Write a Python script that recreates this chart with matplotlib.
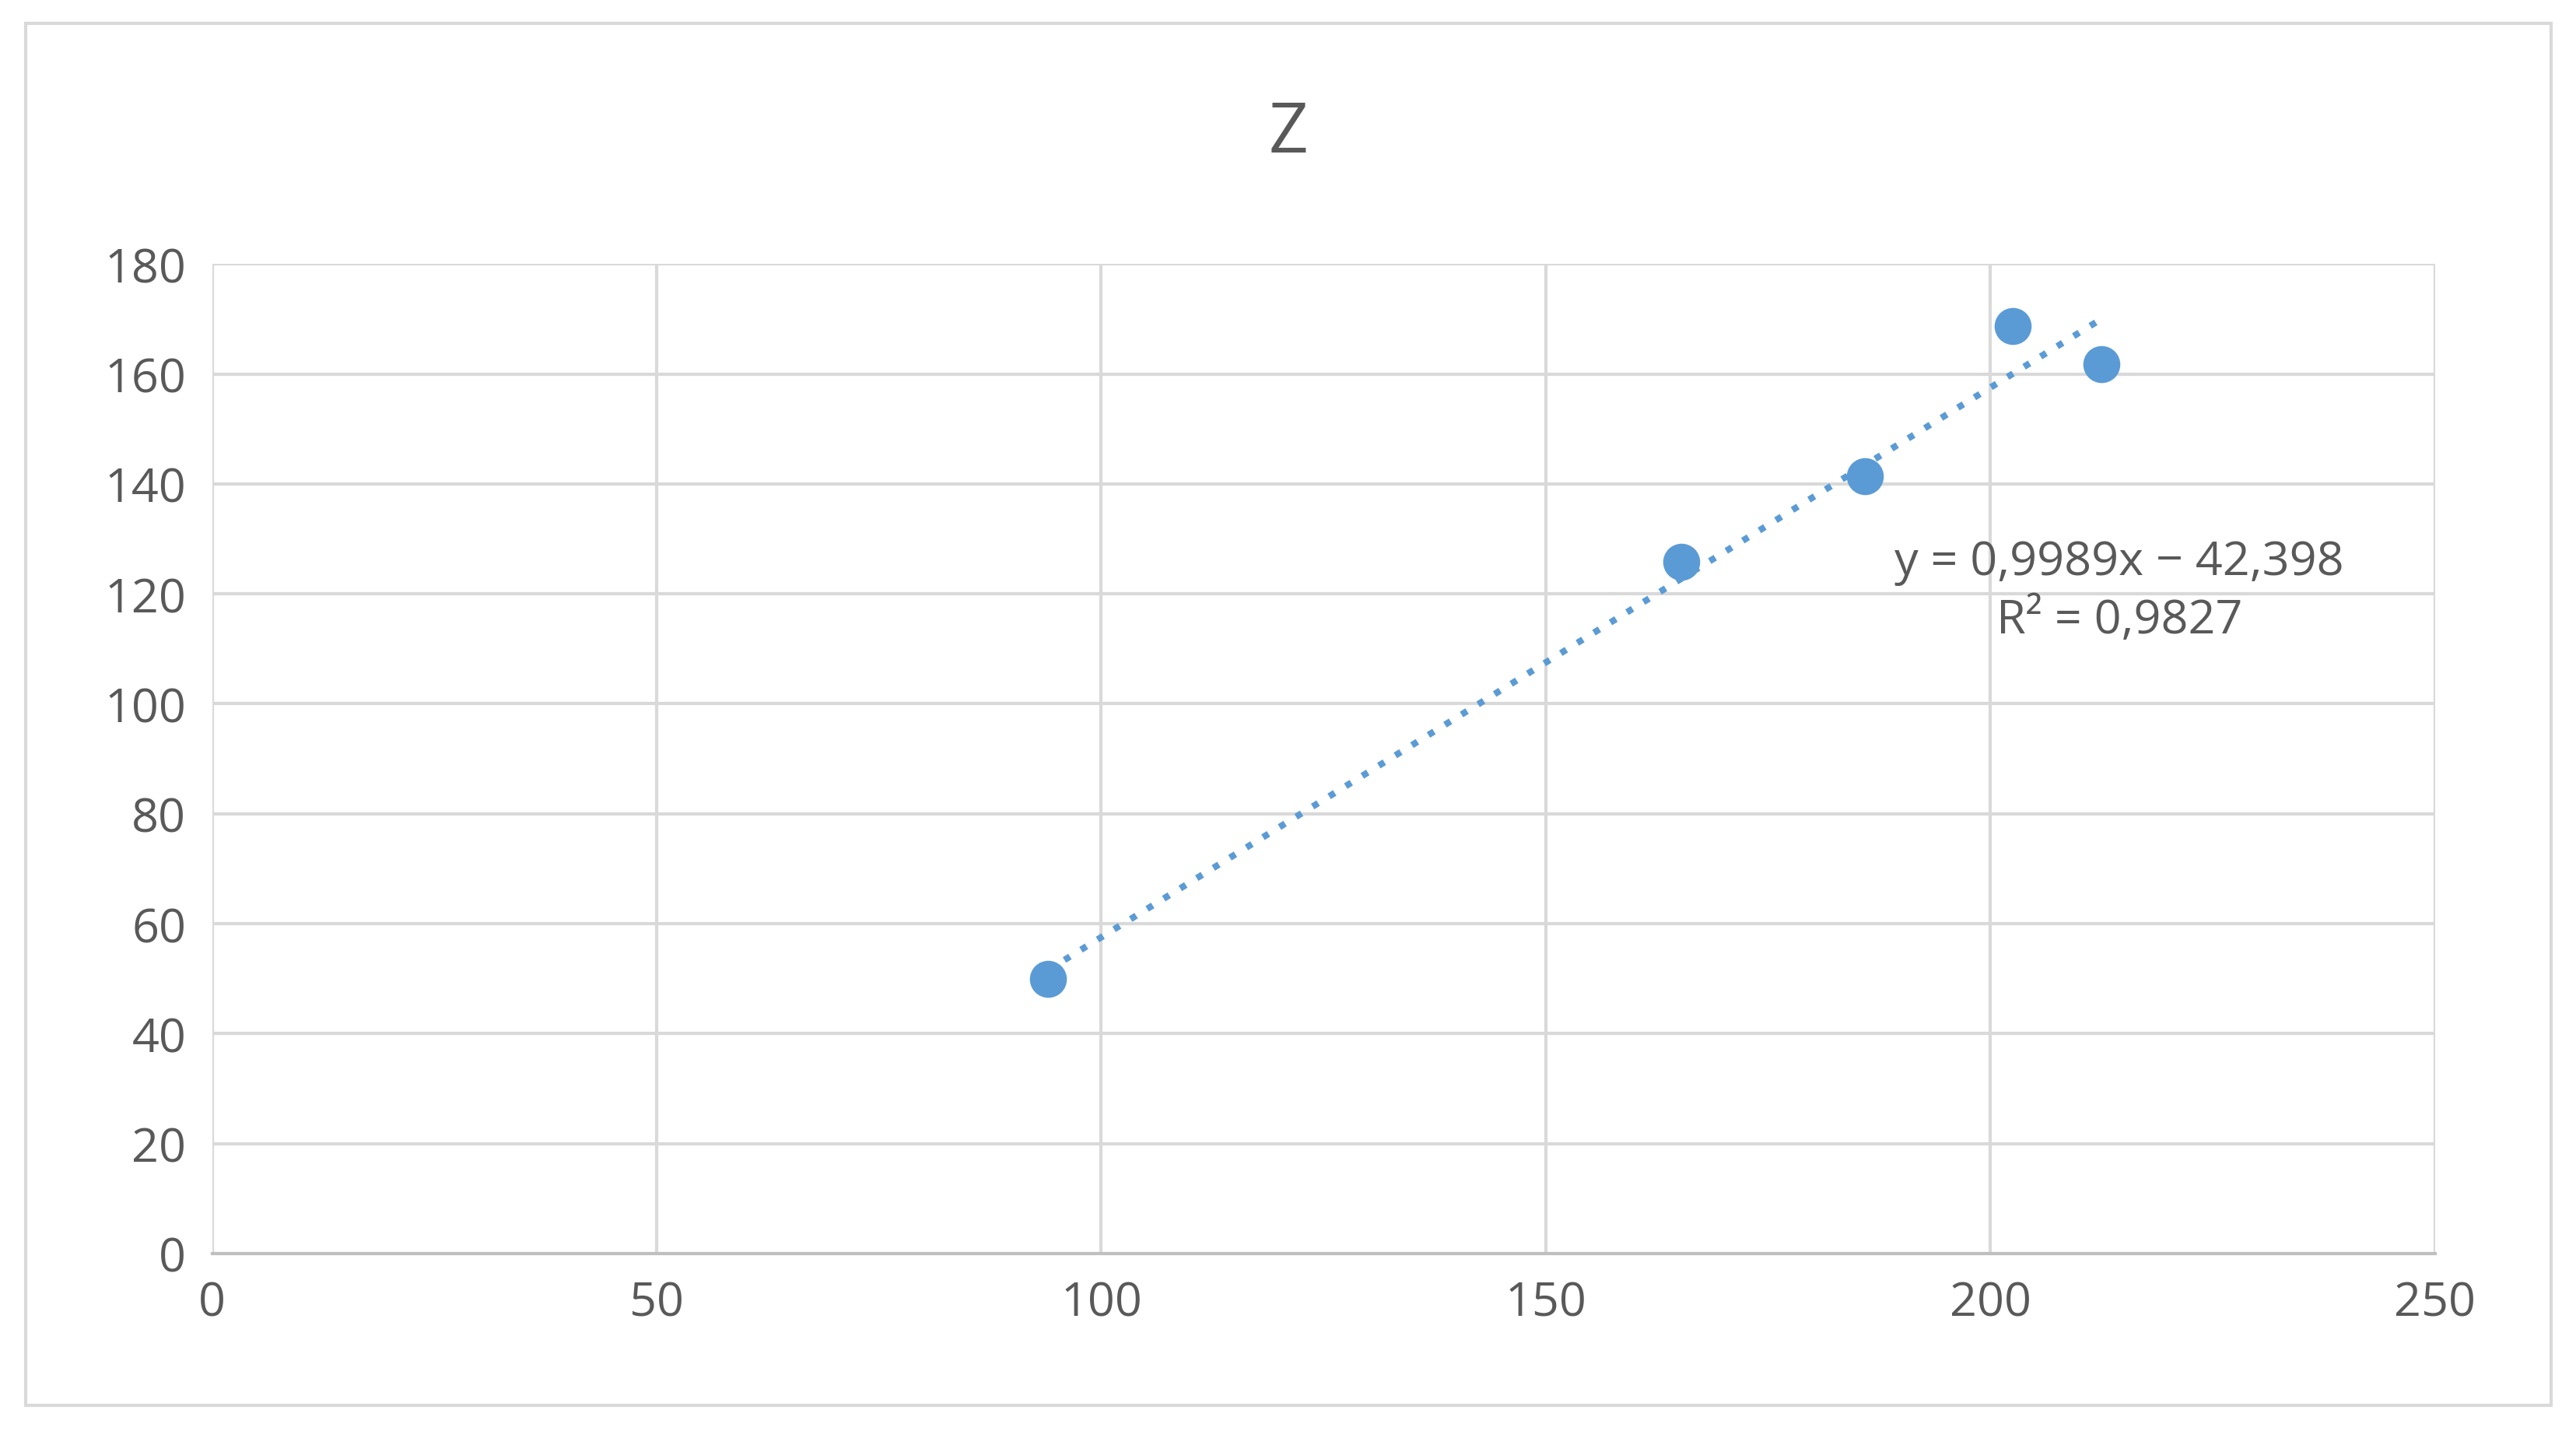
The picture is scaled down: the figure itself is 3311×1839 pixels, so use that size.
import numpy as np
import matplotlib.pyplot as plt
from matplotlib.patches import Rectangle

# data
x_vals = [94, 165.2, 185.9, 202.5, 212.5]
y_vals = [50, 125.9, 141.4, 168.7, 161.8]
x_ticks = [0, 50, 100, 150, 200, 250]
y_ticks = [0, 20, 40, 60, 80, 100, 120, 140, 160, 180]
title = 'Z'
eq_text = 'y = 0,9989x − 42,398\nR² = 0,9827'

plt.rcParams['font.family'] = ['Open Sans', 'DejaVu Sans']
blue = '#5B9BD5'
gray = '#595959'

fig = plt.figure(figsize=(16.56, 9.2), dpi=200)
fig.patches.append(Rectangle((0.01, 0.018), 0.98, 0.965, transform=fig.transFigure,
                             fill=False, edgecolor='#D9D9D9', linewidth=1.5))
ax = fig.add_axes([0.0823, 0.124, 0.8627, 0.691])

ax.scatter(x_vals, y_vals, s=260, color=blue, zorder=3)
coef = np.polyfit(x_vals, y_vals, 1)
xs = np.array([min(x_vals), max(x_vals)])
ax.plot(xs, np.polyval(coef, xs), linestyle=(0, (1, 2)), color=blue, linewidth=3, zorder=2)
ax.text(214.5, 120.5, eq_text, ha='center', va='center', fontsize=22, color=gray,
        linespacing=1.3)

ax.set_xlim(0, 250)
ax.set_ylim(0, 180)
ax.set_xticks(x_ticks)
ax.set_yticks(y_ticks)
ax.grid(True, color='#D9D9D9', linewidth=1.5)
ax.set_axisbelow(True)
for s in ['top', 'right', 'left']:
    ax.spines[s].set_visible(False)
ax.spines['bottom'].set_color('#BFBFBF')
ax.spines['bottom'].set_linewidth(1.5)
ax.tick_params(length=0, labelsize=22, labelcolor=gray, pad=12)
fig.text(0.5, 0.906, title, ha='center', va='center', fontsize=32, color=gray)

fig.savefig('out.png', dpi=200)
